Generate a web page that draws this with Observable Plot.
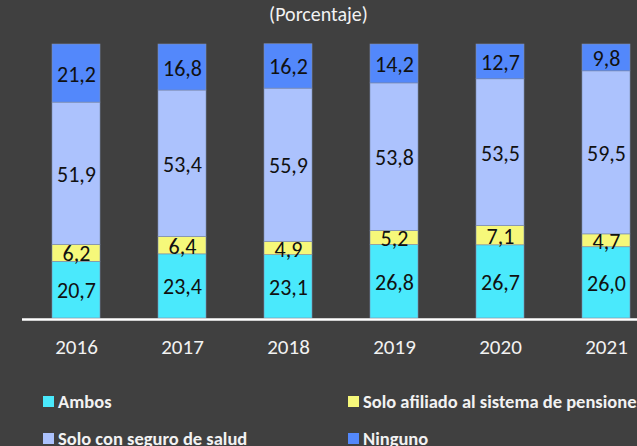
<!DOCTYPE html>
<html>
<head>
<meta charset="utf-8">
<script src="https://cdn.jsdelivr.net/npm/d3@7"></script>
<script src="https://cdn.jsdelivr.net/npm/@observablehq/plot@0.6"></script>
<style>
  html, body { margin: 0; padding: 0; background: #404040; }
  body { width: 637px; height: 446px; overflow: hidden; position: relative; font-family: Carlito, Lato, "Open Sans", sans-serif; }
  #title { position: absolute; left: 0; top: 0; width: 637px; height: 28px; text-align: center; color: #f2f2f2; font-size: 20px; line-height: 29px; }
  #chart { position: absolute; left: 0; top: 28px; }
  .leg { position: absolute; color: #f2f2f2; font-weight: bold; font-size: 18.5px; white-space: nowrap; display: flex; align-items: center; }
  .sw { width: 11px; height: 11px; display: inline-block; margin-right: 4px; }
</style>
</head>
<body>
<div id="title">(Porcentaje)</div>
<div id="chart"></div>
<div id="legend"></div>
<script>
const years = ["2016", "2017", "2018", "2019", "2020", "2021"];
const seriesNames = ["Ambos", "Solo afiliado al sistema de pensiones", "Solo con seguro de salud", "Ninguno"];
const seriesColors = ["#4ae9fc", "#f6f87a", "#acc2fd", "#5388fb"];
const ambos = [20.7, 23.4, 23.1, 26.8, 26.7, 26.0];
const soloPensiones = [6.2, 6.4, 4.9, 5.2, 7.1, 4.7];
const soloSalud = [51.9, 53.4, 55.9, 53.8, 53.5, 59.5];
const ninguno = [21.2, 16.8, 16.2, 14.2, 12.7, 9.8];

const seriesValues = [ambos, soloPensiones, soloSalud, ninguno];
const data = [];
seriesNames.forEach((s, si) => {
  years.forEach((y, yi) => data.push({year: y, series: s, value: seriesValues[si][yi]}));
});
const fmt = v => v.toFixed(1).replace(".", ",");

const plot = Plot.plot({
  width: 637,
  height: 350,
  marginTop: 16,
  marginBottom: 60,
  marginLeft: 22,
  marginRight: 0,
  style: {background: "transparent", fontFamily: "Carlito, Lato, 'Open Sans', sans-serif"},
  x: {domain: years, range: [23, 659], paddingInner: 0.5472, paddingOuter: 0.2736, label: null},
  y: {domain: [0, 100], axis: null},
  color: {domain: seriesNames, range: seriesColors},
  marks: [
    Plot.barY(data, Plot.stackY({x: "year", y: "value", z: "series", fill: "series", order: seriesNames, stroke: "#7d8cae", strokeWidth: 0.6})),
    Plot.text(data, Plot.stackY({x: "year", y: "value", z: "series", order: seriesNames, text: d => fmt(d.value), fill: "#111", fontSize: 22, dy: 1})),
    Plot.ruleY([0], {stroke: "#ffffff", strokeWidth: 2.5, dy: 1}),
    Plot.axisX({tickSize: 0, tickPadding: 21, fontSize: 21, color: "#f2f2f2", label: null})
  ]
});
document.getElementById("chart").appendChild(plot);

const legendPos = [[43, 401], [348, 401], [43, 438.5], [348, 438.5]];
const legend = document.getElementById("legend");
seriesNames.forEach((s, i) => {
  const d = document.createElement("div");
  d.className = "leg";
  d.style.left = legendPos[i][0] + "px";
  d.style.top = (legendPos[i][1] - 11) + "px";
  d.style.height = "22px";
  const sw = document.createElement("span");
  sw.className = "sw";
  sw.style.background = seriesColors[i];
  d.appendChild(sw);
  d.appendChild(document.createTextNode(s));
  legend.appendChild(d);
});
</script>
</body>
</html>
